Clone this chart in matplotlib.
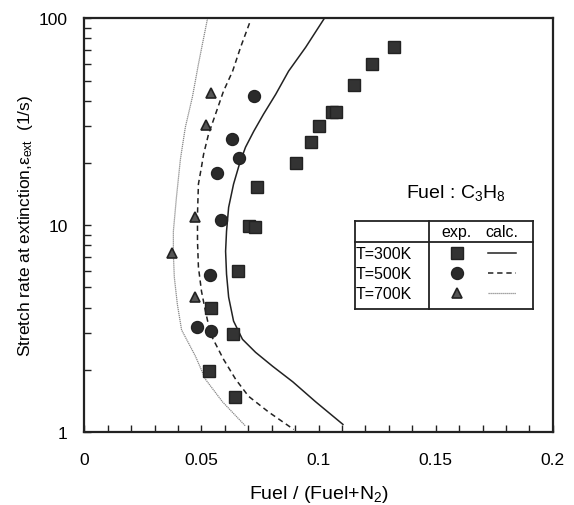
import matplotlib
matplotlib.use("Agg")
import matplotlib.pyplot as plt
from matplotlib.lines import Line2D
from matplotlib.ticker import MultipleLocator, NullFormatter

plt.rcParams['font.family'] = ['Liberation Sans', 'DejaVu Sans']
plt.rcParams['mathtext.fontset'] = 'custom'
plt.rcParams['mathtext.rm'] = 'Liberation Sans'
plt.rcParams['mathtext.it'] = 'Liberation Sans:italic'

# ---- experimental data ----
exp300_x = [0.1322, 0.1228, 0.1151, 0.1058, 0.1075, 0.1002, 0.0968, 0.0904, 0.0738,
            0.0704, 0.0729, 0.0657, 0.0542, 0.0635, 0.0533, 0.0644]
exp300_y = [72.4, 60.0, 47.5, 35.1, 35.1, 30.1, 25.2, 19.9, 15.3,
            9.9, 9.8, 6.0, 3.97, 2.97, 1.97, 1.48]
exp500_x = [0.0725, 0.0631, 0.0661, 0.0567, 0.0584, 0.0537, 0.0482, 0.0542]
exp500_y = [42.0, 26.0, 21.1, 17.8, 10.6, 5.73, 3.21, 3.08]
exp700_x = [0.0542, 0.0520, 0.0473, 0.0375, 0.0473]
exp700_y = [43.4, 30.4, 11.0, 7.32, 4.49]

# ---- calculated curves ----
calc300_x = [0.1025, 0.0945, 0.0872, 0.0817, 0.0765, 0.0723, 0.0688, 0.0663, 0.0637,
             0.0616, 0.0607, 0.0603, 0.0607, 0.0616, 0.0637, 0.0675, 0.0731, 0.0804,
             0.0890, 0.0988, 0.1104]
calc300_y = [100, 72.4, 55.5, 42.9, 34.4, 28.4, 23.8, 19.9, 15.8,
             12.2, 9.35, 7.48, 5.80, 4.49, 3.44, 2.81, 2.43, 2.08,
             1.75, 1.40, 1.09]
calc500_x = [0.0705, 0.0667, 0.0633, 0.0594, 0.0560, 0.0530, 0.0509, 0.0500, 0.0487,
             0.0483, 0.0483, 0.0487, 0.0500, 0.0517, 0.0539, 0.0594, 0.0646, 0.0701,
             0.0787, 0.0894]
calc500_y = [94.6, 72.4, 55.5, 44.4, 34.4, 27.5, 22.0, 19.1, 15.8,
             11.3, 8.37, 6.27, 4.80, 3.84, 2.97, 2.25, 1.80, 1.49,
             1.25, 1.03]
calc700_x = [0.0526, 0.0487, 0.0461, 0.0431, 0.0410, 0.0393, 0.0380, 0.0380, 0.0384,
             0.0397, 0.0415, 0.0474, 0.0517, 0.0590, 0.0688]
calc700_y = [100, 60.0, 41.5, 29.7, 20.8, 13.6, 9.35, 7.24, 5.61,
             4.15, 3.12, 2.33, 1.80, 1.40, 1.07]

legend_labels = ['T=300K', 'T=500K', 'T=700K']

fig = plt.figure(figsize=(5.74, 5.06), dpi=100)
ax = fig.add_axes([0.147, 0.144, 0.816, 0.818])

ax.plot(calc300_x, calc300_y, color='#222222', lw=1.1, ls='-')
ax.plot(calc500_x, calc500_y, color='#222222', lw=1.1, ls=(0, (3.5, 2.5)))
ax.plot(calc700_x, calc700_y, color='#888888', lw=0.9, ls=(0, (1, 0.6)))

ax.plot(exp300_x, exp300_y, 's', ms=8.6, mfc='#333333', mec='#222222', ls='none')
ax.plot(exp500_x, exp500_y, 'o', ms=8.6, mfc='#2a2a2a', mec='#222222', ls='none')
ax.plot(exp700_x, exp700_y, '^', ms=7.5, mfc='#555555', mec='#222222', mew=1.2, ls='none')

ax.set_yscale('log')
ax.set_xlim(0, 0.2)
ax.set_ylim(1, 100)
ax.set_xticks([0, 0.05, 0.1, 0.15, 0.2])
ax.set_xticklabels(['0', '0.05', '0.1', '0.15', '0.2'])
ax.xaxis.set_minor_locator(MultipleLocator(0.01))
ax.set_yticks([1, 10, 100])
ax.set_yticklabels(['1', '10', '100'])
ax.yaxis.set_minor_formatter(NullFormatter())

ax.tick_params(axis='both', which='both', direction='in', top=False, right=False,
               labelsize=12.5, width=1.0, color='#222222')
ax.tick_params(axis='both', which='major', length=5)
ax.tick_params(axis='both', which='minor', length=5)
ax.tick_params(axis='x', which='major', pad=14.5)
ax.tick_params(axis='y', which='major', pad=12)
for s in ax.spines.values():
    s.set_linewidth(1.6)
    s.set_color('#222222')

ax.set_xlabel('Fuel / (Fuel+N$_2$)', fontsize=14, labelpad=11)
ax.set_ylabel('Stretch rate at extinction,ε$_{\\mathrm{ext}}$  (1/s)', fontsize=12.5,
              labelpad=3)

# ---- annotation and legend table ----
def ax_xy(px, py):
    return ((px - 84.5) / 468.5, (433 - py) / 414)

tx, ty = ax_xy(456, 193)
ax.text(tx, ty, 'Fuel : C$_3$H$_8$', transform=ax.transAxes, ha='center', va='center',
        fontsize=14)

L, R, T, B = 355, 533, 222, 310
HS, VD = 243, 429
lw = 1.3
for (x0, y0, x1, y1) in [(L, T, R, T), (L, B, R, B), (L, T, L, B), (R, T, R, B),
                         (L, HS, R, HS), (VD, T, VD, B)]:
    a0 = ax_xy(x0, y0)
    a1 = ax_xy(x1, y1)
    ax.add_line(Line2D([a0[0], a1[0]], [a0[1], a1[1]], transform=ax.transAxes,
                       color='#222222', lw=lw, clip_on=False))

hx, hy = ax_xy(457, 232)
ax.text(hx, hy, 'exp.', transform=ax.transAxes, ha='center', va='center', fontsize=11.5)
hx, hy = ax_xy(502, 232)
ax.text(hx, hy, 'calc.', transform=ax.transAxes, ha='center', va='center', fontsize=11.5)

row_y = [254, 274, 294]
markers = [dict(marker='s', ms=8.6, mfc='#333333', mec='#222222'),
           dict(marker='o', ms=8.6, mfc='#2a2a2a', mec='#222222'),
           dict(marker='^', ms=7.5, mfc='#555555', mec='#222222', mew=1.2)]
styles = [dict(color='#222222', lw=1.1, ls='-'),
          dict(color='#222222', lw=1.1, ls=(0, (3.5, 2.5))),
          dict(color='#888888', lw=0.9, ls=(0, (1, 0.6)))]
for lab, py, mk, st in zip(legend_labels, row_y, markers, styles):
    lx, ly = ax_xy(356, py)
    ax.text(lx, ly, lab, transform=ax.transAxes, ha='left', va='center', fontsize=11.5)
    mx, my = ax_xy(457, py)
    ax.add_line(Line2D([mx], [my], transform=ax.transAxes, ls='none', clip_on=False, **mk))
    a0 = ax_xy(488, py)
    a1 = ax_xy(516, py)
    ax.add_line(Line2D([a0[0], a1[0]], [a0[1], a1[1]], transform=ax.transAxes, **st))

fig.savefig('out.png', dpi=100)
